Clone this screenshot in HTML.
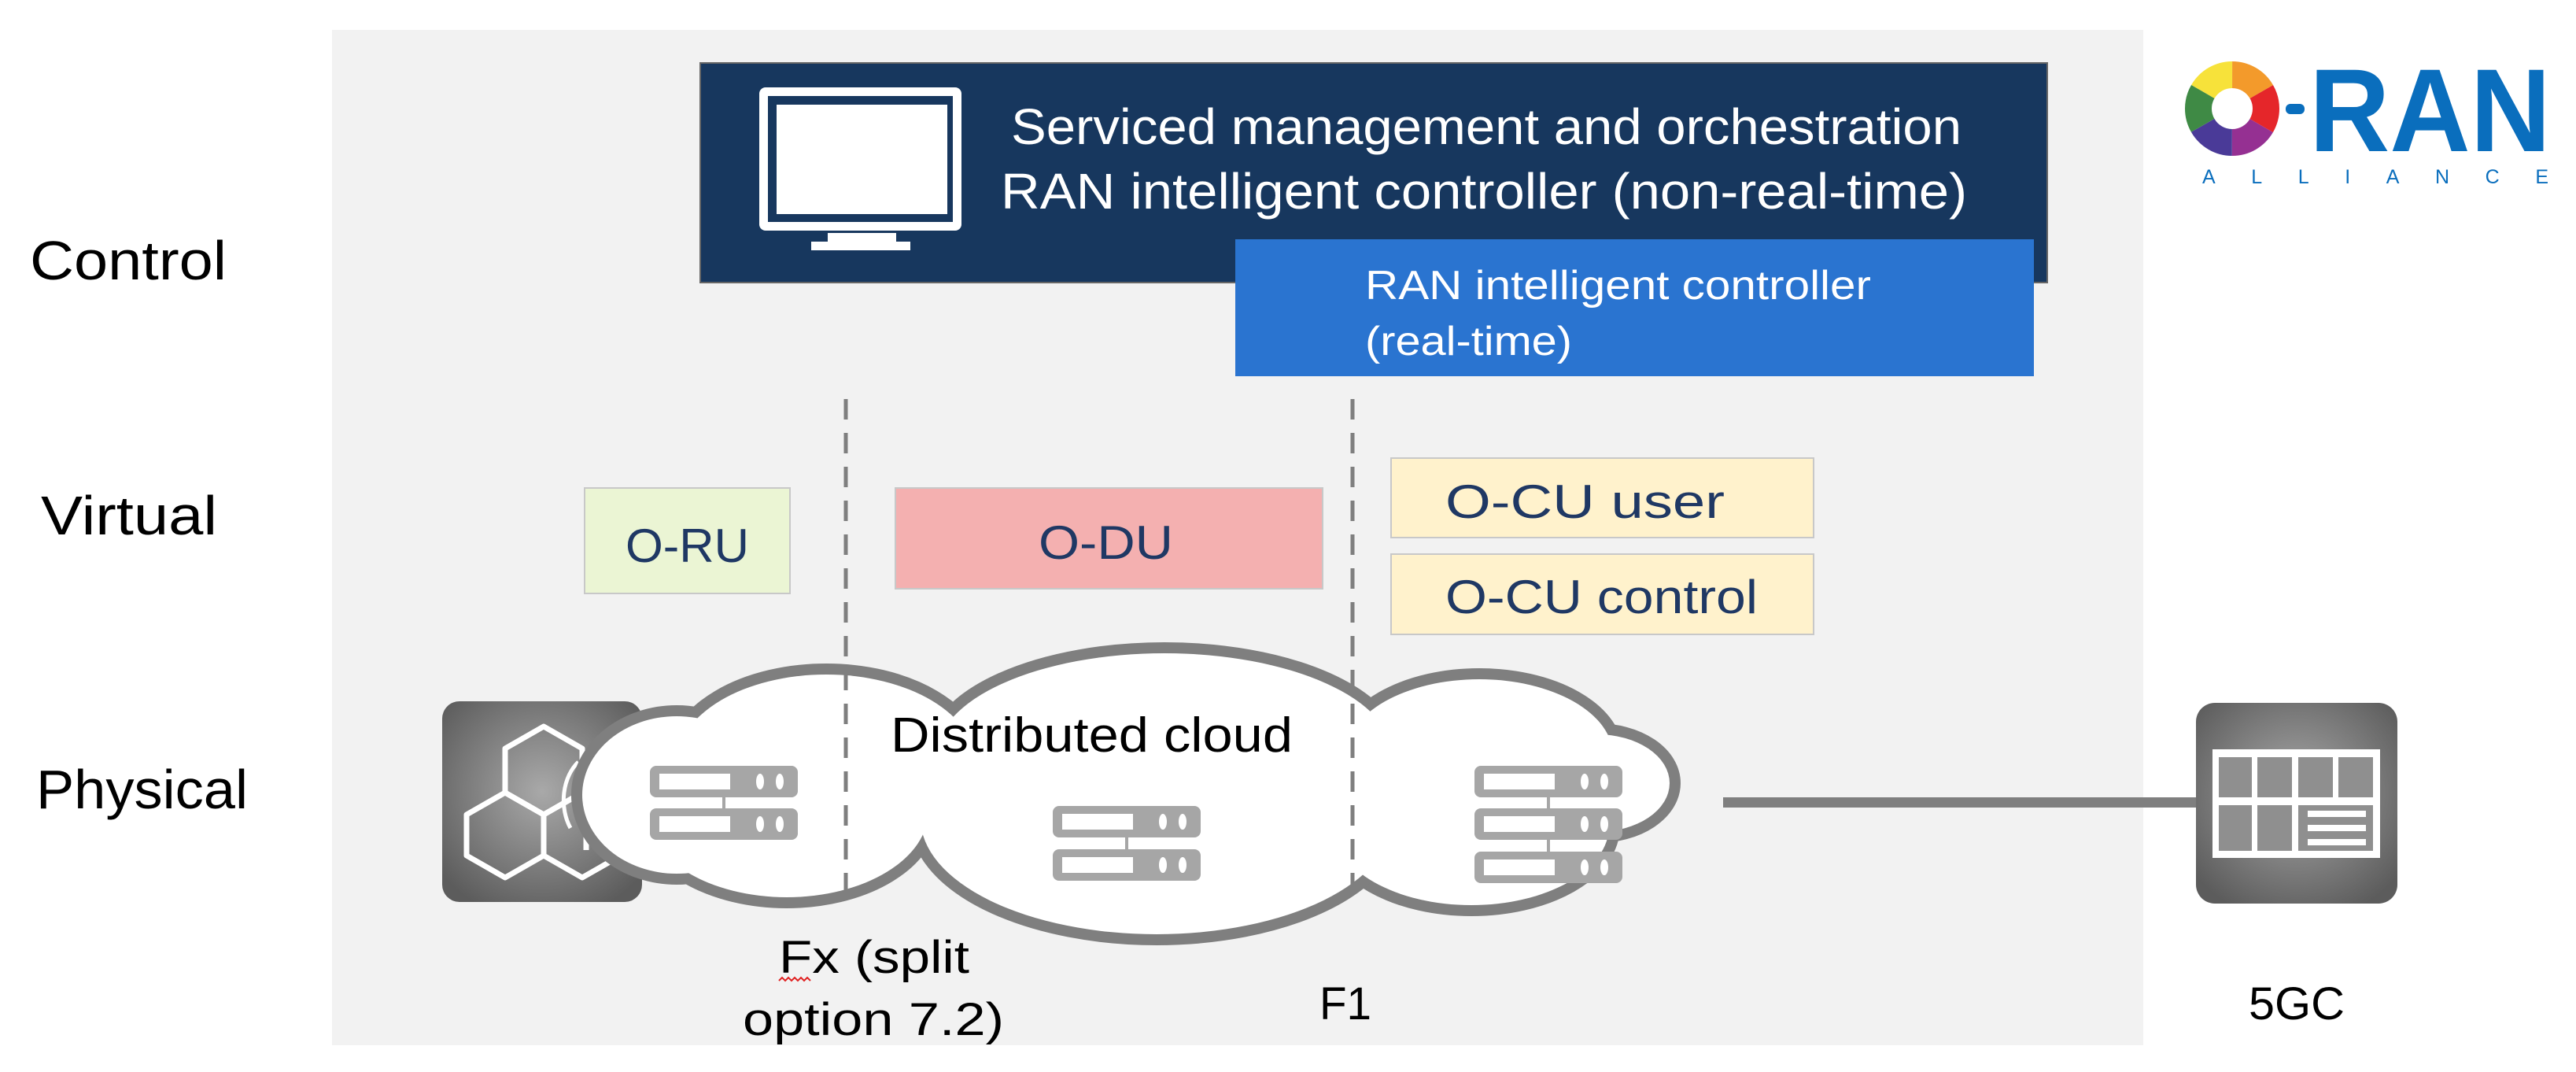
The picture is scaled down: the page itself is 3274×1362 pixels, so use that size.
<!DOCTYPE html>
<html><head><meta charset="utf-8"><style>
html,body{margin:0;padding:0;background:#fff;}
svg{display:block;}
text{font-family:"Liberation Sans",sans-serif;}
</style></head><body>
<svg width="3274" height="1362" viewBox="0 0 3274 1362" xmlns="http://www.w3.org/2000/svg">
<defs>
<radialGradient id="ig" cx="50%" cy="45%" r="65%">
<stop offset="0" stop-color="#a9a9a9"/><stop offset="1" stop-color="#5c5c5c"/>
</radialGradient>
<g id="srv">
<rect x="0" y="0" width="188" height="40" rx="8" fill="#a6a6a6"/>
<rect x="12" y="10" width="90" height="20" fill="#fff"/>
<ellipse cx="140" cy="20" rx="5" ry="10" fill="#fff"/>
<ellipse cx="165" cy="20" rx="5" ry="10" fill="#fff"/>
</g>
</defs>
<rect width="3274" height="1362" fill="#fff"/>
<rect x="422" y="38" width="2302" height="1290" fill="#f2f2f2"/>

<!-- labels left -->
<text x="38" y="355" font-size="70" fill="#000" textLength="250" lengthAdjust="spacingAndGlyphs">Control</text>
<text x="52" y="679" font-size="70" fill="#000" textLength="224" lengthAdjust="spacingAndGlyphs">Virtual</text>
<text x="46" y="1027" font-size="70" fill="#000" textLength="269" lengthAdjust="spacingAndGlyphs">Physical</text>

<!-- navy box -->
<rect x="890" y="80" width="1712" height="279" fill="#17375e" stroke="#666" stroke-width="2"/>
<rect x="965" y="111" width="257" height="182" rx="8" fill="#fff"/>
<rect x="976" y="122" width="235" height="160" fill="#17375e"/>
<rect x="987" y="133" width="217" height="139" fill="#fff"/>
<rect x="1052" y="296" width="87" height="12" fill="#fff"/>
<rect x="1031" y="307" width="126" height="11" fill="#fff"/>
<text x="1285" y="183" font-size="64" fill="#fff" textLength="1208" lengthAdjust="spacingAndGlyphs">Serviced management and orchestration</text>
<text x="1272" y="265" font-size="64" fill="#fff" textLength="1228" lengthAdjust="spacingAndGlyphs">RAN intelligent controller (non-real-time)</text>

<!-- blue box -->
<rect x="1570" y="304" width="1015" height="174" fill="#2a74d0"/>
<text x="1735" y="380" font-size="52" fill="#fff" textLength="643" lengthAdjust="spacingAndGlyphs">RAN intelligent controller</text>
<text x="1735" y="451" font-size="52" fill="#fff" textLength="263" lengthAdjust="spacingAndGlyphs">(real-time)</text>

<!-- virtual boxes -->
<rect x="743" y="620" width="261" height="134" fill="#ebf5d4" stroke="#c8c8c8" stroke-width="2"/>
<text x="795" y="714" font-size="60" fill="#1f3864" textLength="157" lengthAdjust="spacingAndGlyphs">O-RU</text>
<rect x="1138" y="620" width="543" height="128" fill="#f4b0b0" stroke="#c8c8c8" stroke-width="2"/>
<text x="1320" y="710" font-size="60" fill="#1f3864" textLength="171" lengthAdjust="spacingAndGlyphs">O-DU</text>
<rect x="1768" y="582" width="537" height="101" fill="#fff2cc" stroke="#c8c8c8" stroke-width="2"/>
<text x="1837" y="658" font-size="60" fill="#1f3864" textLength="355" lengthAdjust="spacingAndGlyphs">O-CU user</text>
<rect x="1768" y="704" width="537" height="102" fill="#fff2cc" stroke="#c8c8c8" stroke-width="2"/>
<text x="1837" y="779" font-size="60" fill="#1f3864" textLength="397" lengthAdjust="spacingAndGlyphs">O-CU control</text>

<!-- radio icon -->
<rect x="562" y="891" width="254" height="255" rx="22" fill="url(#ig)"/>
<g fill="none" stroke="#fff" stroke-width="7" stroke-linejoin="round">
<polygon points="691,923 740,951 740,1007 691,1035 642,1007 642,951"/>
<polygon points="642,1007 691,1035 691,1087 642,1115 593,1087 593,1035"/>
<polygon points="740,1007 789,1035 789,1087 740,1115 691,1087 691,1035"/>
<path d="M745 1050 V1080"/>
<path d="M725 1052 A45 60 0 0 1 735 968" stroke-width="5"/>
<path d="M735 1040 A30 45 0 0 1 742 982" stroke-width="5"/>
</g>

<!-- cloud -->
<g fill="none" stroke="#7f7f7f" stroke-width="28">
<ellipse cx="860" cy="1010" rx="120" ry="100"/>
<ellipse cx="1050" cy="970" rx="190" ry="113"/>
<ellipse cx="1480" cy="960" rx="290" ry="130"/>
<ellipse cx="1880" cy="960" rx="170" ry="97"/>
<ellipse cx="2030" cy="995" rx="92" ry="62"/>
<ellipse cx="1870" cy="1050" rx="175" ry="100"/>
<ellipse cx="1470" cy="1040" rx="300" ry="147"/>
<ellipse cx="1000" cy="1030" rx="180" ry="110"/>
</g>
<g fill="#fff">
<ellipse cx="860" cy="1010" rx="120" ry="100"/>
<ellipse cx="1050" cy="970" rx="190" ry="113"/>
<ellipse cx="1480" cy="960" rx="290" ry="130"/>
<ellipse cx="1880" cy="960" rx="170" ry="97"/>
<ellipse cx="2030" cy="995" rx="92" ry="62"/>
<ellipse cx="1870" cy="1050" rx="175" ry="100"/>
<ellipse cx="1470" cy="1040" rx="300" ry="147"/>
<ellipse cx="1000" cy="1030" rx="180" ry="110"/>
</g>
<text x="1132" y="955" font-size="62" fill="#000" textLength="511" lengthAdjust="spacingAndGlyphs">Distributed cloud</text>

<!-- dashed lines -->
<g stroke="#7f7f7f" stroke-width="5" stroke-dasharray="26,17">
<line x1="1075" y1="507" x2="1075" y2="1144"/>
<line x1="1719" y1="507" x2="1719" y2="1144"/>
</g>

<!-- servers -->
<g stroke="#a6a6a6" stroke-width="4">
<line x1="920" y1="1000" x2="920" y2="1040"/>
<line x1="1432" y1="1050" x2="1432" y2="1090"/>
<line x1="1968" y1="1000" x2="1968" y2="1100"/>
</g>
<use href="#srv" x="826" y="973"/>
<use href="#srv" x="826" y="1027"/>
<use href="#srv" x="1338" y="1024"/>
<use href="#srv" x="1338" y="1079"/>
<use href="#srv" x="1874" y="973"/>
<use href="#srv" x="1874" y="1027"/>
<use href="#srv" x="1874" y="1082"/>

<!-- link to 5GC -->
<rect x="2190" y="1013" width="604" height="13" fill="#7f7f7f"/>

<!-- 5GC icon -->
<rect x="2791" y="893" width="256" height="255" rx="24" fill="url(#ig)"/>
<rect x="2812" y="952" width="213" height="138" fill="#fff"/>
<g fill="#8f8f8f">
<rect x="2820" y="962" width="42" height="51"/>
<rect x="2869" y="962" width="44" height="51"/>
<rect x="2921" y="962" width="44" height="51"/>
<rect x="2972" y="962" width="44" height="51"/>
<rect x="2820" y="1023" width="42" height="58"/>
<rect x="2869" y="1023" width="44" height="58"/>
<rect x="2921" y="1023" width="95" height="58"/>
</g>
<g fill="#fff">
<rect x="2933" y="1030" width="74" height="8"/>
<rect x="2933" y="1048" width="74" height="8"/>
<rect x="2933" y="1066" width="74" height="8"/>
</g>

<!-- bottom labels -->
<text x="990" y="1236" font-size="58" fill="#000" textLength="242" lengthAdjust="spacingAndGlyphs">Fx (split</text>
<path d="M990 1246 l4 -4 l4 4 l4 -4 l4 4 l4 -4 l4 4 l4 -4 l4 4 l4 -4 l4 4" fill="none" stroke="#e02020" stroke-width="2"/>
<text x="944" y="1315" font-size="58" fill="#000" textLength="332" lengthAdjust="spacingAndGlyphs">option 7.2)</text>
<text x="1677" y="1295" font-size="58" fill="#000" textLength="66" lengthAdjust="spacingAndGlyphs">F1</text>
<text x="2858" y="1295" font-size="58" fill="#000" textLength="122" lengthAdjust="spacingAndGlyphs">5GC</text>

<!-- logo -->
<g fill="none" stroke-width="34" transform="rotate(-150 2837 138)">
<circle cx="2837" cy="138" r="43" stroke="#f7e23a" stroke-dasharray="45 270" stroke-dashoffset="0"/>
<circle cx="2837" cy="138" r="43" stroke="#f39a2b" stroke-dasharray="45 270" stroke-dashoffset="-45"/>
<circle cx="2837" cy="138" r="43" stroke="#e5262a" stroke-dasharray="45 270" stroke-dashoffset="-90"/>
<circle cx="2837" cy="138" r="43" stroke="#953092" stroke-dasharray="45 270" stroke-dashoffset="-135"/>
<circle cx="2837" cy="138" r="43" stroke="#4a3a98" stroke-dasharray="45 270" stroke-dashoffset="-180"/>
<circle cx="2837" cy="138" r="43" stroke="#3f8a45" stroke-dasharray="46 270" stroke-dashoffset="-225"/>
<circle cx="2837" cy="138" r="43" stroke="#9cc446" stroke-dasharray="1 270" stroke-dashoffset="-270"/>
</g>
<rect x="2905" y="132" width="24" height="13" rx="6" fill="#0a6ebd"/>
<text x="2935" y="192" font-size="150" font-weight="bold" fill="#0a6ebd" textLength="307" lengthAdjust="spacingAndGlyphs">RAN</text>
<text x="2799" y="233" font-size="25" fill="#0a6ebd" textLength="440" lengthAdjust="spacing">ALLIANCE</text>
</svg>
</body></html>
